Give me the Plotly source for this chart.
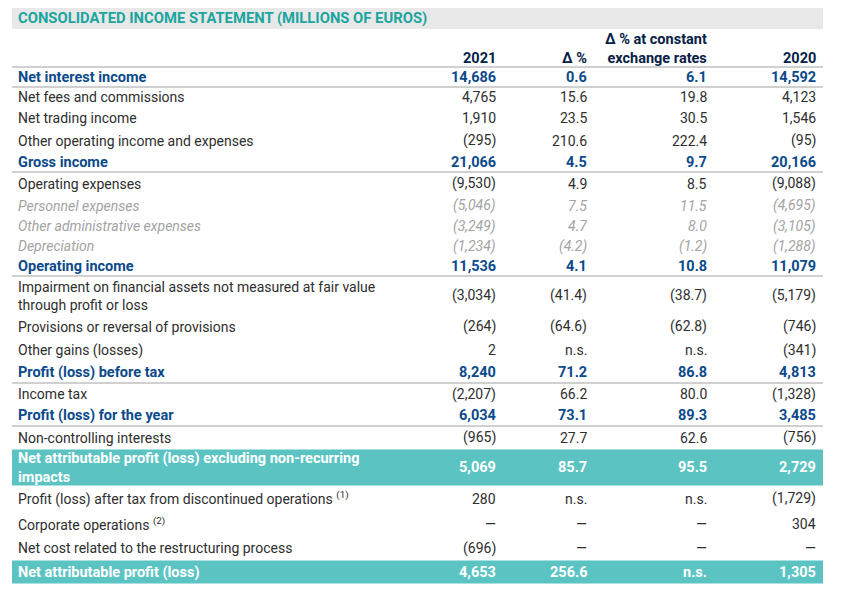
import plotly.graph_objects as go

# ---------------- data ----------------
title = "CONSOLIDATED INCOME STATEMENT (MILLIONS OF EUROS)"
col_headers = ["2021", "Δ %", "Δ % at constant<br>exchange rates", "2020"]

labels = [
    "Net interest income",
    "Net fees and commissions",
    "Net trading income",
    "Other operating income and expenses",
    "Gross income",
    "Operating expenses",
    "Personnel expenses",
    "Other administrative expenses",
    "Depreciation",
    "Operating income",
    "Impairment on financial assets not measured at fair value<br>through profit or loss",
    "Provisions or reversal of provisions",
    "Other gains (losses)",
    "Profit (loss) before tax",
    "Income tax",
    "Profit (loss) for the year",
    "Non-controlling interests",
    "Net attributable profit (loss) excluding non-recurring<br>impacts",
    "Profit (loss) after tax from discontinued operations <sup>(1)</sup>",
    "Corporate operations <sup>(2)</sup>",
    "Net cost related to the restructuring process",
    "Net attributable profit (loss)",
]
values_2021 = ["14,686", "4,765", "1,910", "(295)", "21,066", "(9,530)", "(5,046)", "(3,249)",
               "(1,234)", "11,536", "(3,034)", "(264)", "2", "8,240", "(2,207)", "6,034",
               "(965)", "5,069", "280", "—", "(696)", "4,653"]
delta_pct = ["0.6", "15.6", "23.5", "210.6", "4.5", "4.9", "7.5", "4.7", "(4.2)", "4.1",
             "(41.4)", "(64.6)", "n.s.", "71.2", "66.2", "73.1", "27.7", "85.7", "n.s.",
             "—", "—", "256.6"]
delta_pct_const = ["6.1", "19.8", "30.5", "222.4", "9.7", "8.5", "11.5", "8.0", "(1.2)", "10.8",
                   "(38.7)", "(62.8)", "n.s.", "86.8", "80.0", "89.3", "62.6", "95.5", "n.s.",
                   "—", "—", "n.s."]
values_2020 = ["14,592", "4,123", "1,546", "(95)", "20,166", "(9,088)", "(4,695)", "(3,105)",
               "(1,288)", "11,079", "(5,179)", "(746)", "(341)", "4,813", "(1,328)", "3,485",
               "(756)", "2,729", "(1,729)", "304", "—", "1,305"]
row_kind = ["bold", "normal", "normal", "normal", "bold", "normal", "italic", "italic", "italic",
            "bold", "normal", "normal", "normal", "bold", "normal", "bold", "normal", "band",
            "normal", "normal", "normal", "band"]

# ---------------- layout / style ----------------
W, H = 853, 591
PAGE_MARGIN = 8          # default body margin of the html page
FONT = "Roboto"
FS = 14
FS_BOLD = 14.5
FS_TITLE = 14.8
left, right = 12, 823
label_x = 16
col_right = [498, 589, 709, 818]
header_line_y = 67
row_heights = [20, 20, 22, 23, 20, 23, 21, 20, 20, 20, 39, 23, 24, 21, 22, 21, 23, 37, 25, 25, 24, 24]
line_after = {0, 4, 9, 13, 15}

C_TITLE = "#1aa59f"
C_TITLE_BG = "#e8e8e8"
C_HEAD = "#072146"
C_BOLD = "#0b4a8c"
C_TEXT = "#2e2e2e"
C_ITAL = "#a3a3a3"
C_BAND = "#5bc4c3"
C_LINE = "#d0d0d0"

styles = {
    "bold": (C_BOLD, "<b>{}</b>", FS_BOLD),
    "normal": (C_TEXT, "{}", FS),
    "italic": (C_ITAL, "<i>{}</i>", FS),
    "band": ("white", "<b>{}</b>", FS_BOLD),
}

fig = go.Figure()
fig.add_trace(go.Scatter(x=[PAGE_MARGIN, W], y=[PAGE_MARGIN, H], mode="markers",
                         marker=dict(opacity=0), hoverinfo="skip", showlegend=False))

shapes = []
annotations = []

# title band
shapes.append(dict(type="rect", x0=left, x1=right, y0=6, y1=29, fillcolor=C_TITLE_BG,
                   line=dict(width=0), layer="below"))
annotations.append(dict(x=label_x, y=17.5, text="<b>" + title + "</b>", xanchor="left",
                        yanchor="middle", showarrow=False,
                        font=dict(family=FONT, size=FS_TITLE, color=C_TITLE)))

# column headers
for cx, h in zip(col_right, col_headers):
    annotations.append(dict(x=cx, y=header_line_y + 2, text="<b>" + h + "</b>", xanchor="right",
                            yanchor="bottom", align="right", showarrow=False,
                            font=dict(family=FONT, size=FS_BOLD, color=C_HEAD)))

def hline(y):
    shapes.append(dict(type="line", x0=left, x1=right, y0=y, y1=y,
                       line=dict(color=C_LINE, width=2), layer="below"))

hline(header_line_y)

y = header_line_y
cols = [values_2021, delta_pct, delta_pct_const, values_2020]
for i, lab in enumerate(labels):
    h = row_heights[i]
    y0, y1 = y, y + h
    yc = (y0 + y1) / 2
    kind = row_kind[i]
    color, fmt, fs = styles[kind]
    if kind == "band":
        shapes.append(dict(type="rect", x0=left, x1=right, y0=y0 + 0.5, y1=y1 - 0.5,
                           fillcolor=C_BAND, line=dict(width=0), layer="below"))
    annotations.append(dict(x=label_x, y=yc, text=fmt.format(lab), xanchor="left",
                            yanchor="middle", align="left", showarrow=False,
                            font=dict(family=FONT, size=fs, color=color)))
    for cx, col in zip(col_right, cols):
        annotations.append(dict(x=cx, y=yc, text=fmt.format(col[i]), xanchor="right",
                                yanchor="middle", align="right", showarrow=False,
                                font=dict(family=FONT, size=fs, color=color)))
    if i in line_after:
        hline(y1)
    y = y1

fig.update_layout(
    width=W - PAGE_MARGIN, height=H - PAGE_MARGIN,
    margin=dict(l=0, r=0, t=0, b=0),
    paper_bgcolor="white", plot_bgcolor="white",
    xaxis=dict(range=[PAGE_MARGIN, W], visible=False, fixedrange=True),
    yaxis=dict(range=[H, PAGE_MARGIN], visible=False, fixedrange=True),
    shapes=shapes, annotations=annotations,
    showlegend=False,
)

fig.write_html("out.html")
